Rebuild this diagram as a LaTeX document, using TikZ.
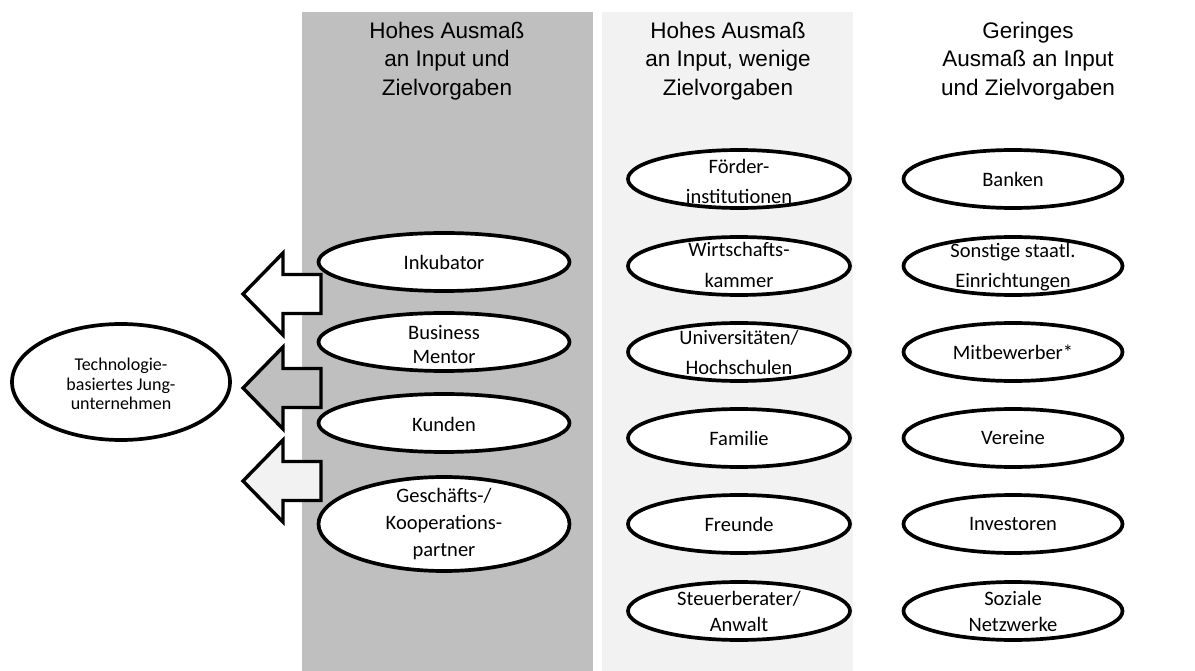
\documentclass[tikz,border=0pt]{standalone}
\usepackage{fontspec}
\setmainfont{Carlito}
\newfontfamily\headfont{Liberation Sans}
\usetikzlibrary{shapes.geometric}
\definecolor{colDark}{HTML}{BFBFBF}
\definecolor{colLight}{HTML}{F2F2F2}
\tikzset{
  oval/.style={ellipse, draw, line width=3.7pt, fill=white, inner sep=0pt},
  colA/.style={oval, minimum width=251pt, minimum height=58pt},
  colB/.style={oval, minimum width=222pt, minimum height=58pt},
  colC/.style={oval, minimum width=219pt, minimum height=58pt},
  lbl/.style={font=\fontsize{20.5}{25}\selectfont, align=center, inner sep=0pt},
  lsp/.style={font=\fontsize{20.5}{#1}\selectfont},
  head/.style={font=\headfont\fontsize{22.5}{28.5}\selectfont, align=center, inner sep=0pt},
  pics/blockarrow/.style={code={
    \draw[line width=3.4pt, line join=miter, fill=#1]
      (0,0) -- (40,-41) -- (40,-19.5) -- (78,-19.5) -- (78,19.5)
      -- (40,19.5) -- (40,41) -- cycle;}}
}
\begin{document}
\begin{tikzpicture}[x=1pt,y=-1pt]
\useasboundingbox (0,0) rectangle (1195,671);

% column backgrounds
\fill[colDark] (302,12) rectangle (593,671);
\fill[colLight] (602,12) rectangle (853,671);

% column headings
\node[head] (h1) at (447,61) {Hohes Ausmaß\\an Input und\\Zielvorgaben};
\node[head] (h2) at (728,61) {Hohes Ausmaß\\an Input, wenige\\Zielvorgaben};
\node[head] (h3) at (1028,61) {Geringes\\Ausmaß an Input\\und Zielvorgaben};

% block arrows pointing to the start-up
\pic at (243,294) {blockarrow=white};
\pic at (243,388) {blockarrow=colDark};
\pic at (243,481) {blockarrow=colLight};

% the start-up
\node[oval, minimum width=218pt, minimum height=116pt] (start) at (121,382) {};
\node[lbl, font=\fontsize{18}{19.5}\selectfont, yshift=-2pt] at (start) {Technologie-\\basiertes Jung-\\unternehmen};

% first column
\node[colA] (ink) at (444,262) {};
\node[lbl] at (ink) {Inkubator};
\node[colA] (men) at (444,342) {};
\node[lbl, lsp=23.5, yshift=-2.5pt] at (men) {Business\\Mentor};
\node[colA] (kun) at (444,423) {};
\node[lbl, yshift=-1pt] at (kun) {Kunden};
\node[colA, minimum height=94pt] (gep) at (444,524) {};
\node[lbl, lsp=27] at (gep) {Geschäfts-/\\Kooperations-\\partner};

% second column
\node[colB] (foe) at (739,179) {};
\node[lbl, lsp=30, yshift=-2pt] at (foe) {Förder-\\institutionen};
\node[colB] (wk) at (739,266) {};
\node[lbl, lsp=31, yshift=1pt] at (wk) {Wirtschafts-\\kammer};
\node[colB] (uni) at (739,352) {};
\node[lbl, lsp=30] at (uni) {Universitäten/\\Hochschulen};
\node[colB] (fam) at (739,438) {};
\node[lbl] at (fam) {Familie};
\node[colB] (fre) at (739,524) {};
\node[lbl] at (fre) {Freunde};
\node[colB] (ste) at (739,611) {};
\node[lbl, lsp=26] at (ste) {Steuerberater/\\Anwalt};

% third column
\node[colC] (ban) at (1013,179) {};
\node[lbl] at (ban) {Banken};
\node[colC] (sst) at (1013,266) {};
\node[lbl, lsp=30, yshift=-1pt] at (sst) {Sonstige staatl.\\Einrichtungen};
\node[colC] (mit) at (1013,352) {};
\node[lbl] at (mit) {Mitbewerber*};
\node[colC] (ver) at (1013,438) {};
\node[lbl] at (ver) {Vereine};
\node[colC] (inv) at (1013,524) {};
\node[lbl] at (inv) {Investoren};
\node[colC] (soz) at (1013,611) {};
\node[lbl, lsp=26] at (soz) {Soziale\\Netzwerke};
\end{tikzpicture}
\end{document}
